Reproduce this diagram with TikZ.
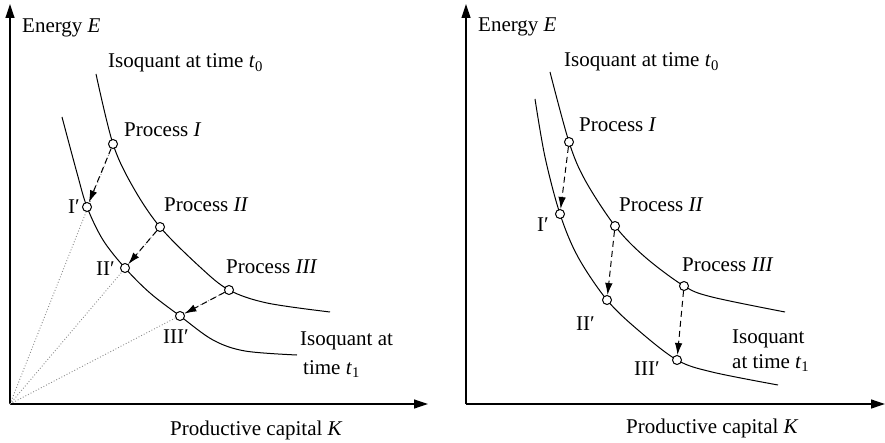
\documentclass[tikz,border=0pt]{standalone}
\usepackage{fontspec}
\setmainfont{Liberation Serif}
\usepackage{xcolor}
\usepackage{tikz}
\usetikzlibrary{arrows.meta,positioning}
\definecolor{Ink}{HTML}{000000}
\definecolor{RayGray}{HTML}{8A8A8A}
\tikzset{
  axis/.style={line width=1.2pt,draw=Ink,-{Triangle[length=14pt,width=9pt]}},
  isoquant/.style={line width=1pt,draw=Ink},
  pt/.style={circle,draw=Ink,fill=white,line width=1pt,inner sep=0pt,minimum size=9pt},
  shiftarrow/.style={-{Latex[length=12pt,width=7.5pt]},line width=1pt,dash pattern=on 6pt off 4pt,draw=Ink},
  ray/.style={line width=0.9pt,dotted,draw=RayGray},
  lbl/.style={anchor=base west,inner sep=0pt,font=\fontsize{21}{25}\selectfont}
}
\begin{document}
\begin{tikzpicture}[x=1pt,y=-1pt]
  \useasboundingbox (0,0) rectangle (885,443);
  % left panel
  \coordinate (O1) at (10,404);
  \coordinate (Y1) at (10,4);
  \coordinate (X1) at (428,404);
  \draw[axis] (O1) -- (Y1);
  \draw[axis] (O1) -- (X1);
  \coordinate (A1) at (113,144);
  \coordinate (B1) at (160,227);
  \coordinate (C1) at (229,290);
  \coordinate (A1p) at (87,207);
  \coordinate (B1p) at (125,268);
  \coordinate (C1p) at (180,316);
  \draw[isoquant] plot[smooth,tension=0.55] coordinates {(96,74) (A1) (133,187) (B1) (200,267) (C1) (267,303) (330,312)};
  \draw[isoquant] plot[smooth,tension=0.55] coordinates {(62,117) (77,173) (A1p) (103,240) (B1p) (150,293) (C1p) (213,340) (245,351) (297,355)};
  \draw[ray] (O1) -- (A1);
  \draw[ray] (O1) -- (B1);
  \draw[ray] (O1) -- (C1);
  \node[pt] (p1) at (A1) {};
  \node[pt] (p2) at (B1) {};
  \node[pt] (p3) at (C1) {};
  \node[pt] (q1) at (A1p) {};
  \node[pt] (q2) at (B1p) {};
  \node[pt] (q3) at (C1p) {};
  \draw[shiftarrow] (p1) -- (q1);
  \draw[shiftarrow] (p2) -- (q2);
  \draw[shiftarrow] (p3) -- (q3);
  \node[lbl] (ey1) at (22,33) {Energy \textit{E}};
  \node[lbl] (t0a) at (108,68) {Isoquant at time \textit{t}\textsubscript{0}};
  \node[lbl] (pra) at (124,137) {Process \textit{I}};
  \node[lbl] (prb) at (164,212) {Process \textit{II}};
  \node[lbl] (prc) at (226,274) {Process \textit{III}};
  \node[lbl] (qa) at (68,214) {I′};
  \node[lbl] (qb) at (96,276) {II′};
  \node[lbl] (qc) at (163,343) {III′};
  \node[lbl] (t1a) at (300,345) {Isoquant at};
  \node[lbl] (t1b) at (303,374) {time \textit{t}\textsubscript{1}};
  \node[lbl] (kx1) at (170,435) {Productive capital \textit{K}};
  % right panel
  \coordinate (O2) at (466,404);
  \coordinate (Y2) at (466,4);
  \coordinate (X2) at (885,404);
  \draw[axis] (O2) -- (Y2);
  \draw[axis] (O2) -- (X2);
  \coordinate (A2) at (569,142);
  \coordinate (B2) at (615,226);
  \coordinate (C2) at (684,286);
  \coordinate (A2p) at (560,214);
  \coordinate (B2p) at (607,300);
  \coordinate (C2p) at (677,360);
  \draw[isoquant] plot[smooth,tension=0.55] coordinates {(550,72) (A2) (585,180) (B2) (645,257) (C2) (712,297) (785,312)};
  \draw[isoquant] plot[smooth,tension=0.55] coordinates {(535,99) (545,157) (A2p) (578,257) (B2p) (638,330) (C2p) (712,372) (778,385)};
  \node[pt] (r1) at (A2) {};
  \node[pt] (r2) at (B2) {};
  \node[pt] (r3) at (C2) {};
  \node[pt] (s1) at (A2p) {};
  \node[pt] (s2) at (B2p) {};
  \node[pt] (s3) at (C2p) {};
  \draw[shiftarrow] (r1) -- (s1);
  \draw[shiftarrow] (r2) -- (s2);
  \draw[shiftarrow] (r3) -- (s3);
  \node[lbl] (ey2) at (478,32) {Energy \textit{E}};
  \node[lbl] (t0b) at (564,67) {Isoquant at time \textit{t}\textsubscript{0}};
  \node[lbl] (prd) at (579,132) {Process \textit{I}};
  \node[lbl] (pre) at (619,212) {Process \textit{II}};
  \node[lbl] (prf) at (682,272) {Process \textit{III}};
  \node[lbl] (sa) at (537,232) {I′};
  \node[lbl] (sb) at (576,330) {II′};
  \node[lbl] (sc) at (634,375) {III′};
  \node[lbl] (t1c) at (732,343) {Isoquant};
  \node[lbl] (t1d) at (732,368) {at time \textit{t}\textsubscript{1}};
  \node[lbl] (kx2) at (626,433) {Productive capital \textit{K}};
\end{tikzpicture}
\end{document}
